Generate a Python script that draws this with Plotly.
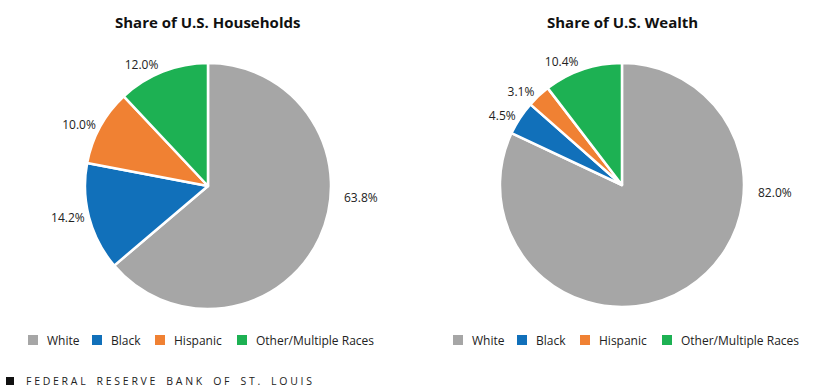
import plotly.graph_objects as go

categories = ["White", "Black", "Hispanic", "Other/Multiple Races"]
households = [63.8, 14.2, 10.0, 12.0]
wealth = [82.0, 4.5, 3.1, 10.4]
colors = ["#a6a6a6", "#1170ba", "#f08133", "#1db153"]
titles = ["Share of U.S. Households", "Share of U.S. Wealth"]
source = "FEDERAL RESERVE BANK OF ST. LOUIS"

W, H = 825, 392
font_family = "Open Sans, Roboto, sans-serif"
label_font = dict(size=12, color="#222222", family=font_family)

# largest slice label is drawn as an annotation (placed beside the pie, as in the original)
text_pos = ["none", "outside", "outside", "outside"]

fig = go.Figure()
for vals, dom in [(households, dict(x=[0.1030, 0.4012], y=[0.2117, 0.8393])),
                  (wealth, dict(x=[0.606, 0.9018], y=[0.2168, 0.8393]))]:
    fig.add_trace(go.Pie(
        labels=categories, values=vals, sort=False, direction="clockwise", rotation=0,
        marker=dict(colors=colors, line=dict(color="white", width=2.5)),
        texttemplate="%{value:.1f}%", textposition=text_pos, textfont=label_font,
        domain=dom, hoverinfo="label+value", showlegend=False,
    ))


def px_x(v):
    return v / W


def px_y(v):
    return 1 - v / H


annotations = [
    dict(text="<b>" + titles[0] + "</b>", x=px_x(207), y=px_y(22), xanchor="center", yanchor="middle",
         font=dict(size=15, color="#111111", family=font_family)),
    dict(text="<b>" + titles[1] + "</b>", x=px_x(622), y=px_y(22), xanchor="center", yanchor="middle",
         font=dict(size=15, color="#111111", family=font_family)),
    dict(text=f"{households[0]:.1f}%", x=px_x(342), y=px_y(197), xanchor="left", yanchor="middle",
         font=label_font),
    dict(text=f"{wealth[0]:.1f}%", x=px_x(756), y=px_y(192), xanchor="left", yanchor="middle",
         font=label_font),
    dict(text=" ".join(source).replace("   ", "    "), x=px_x(24), y=px_y(381),
         xanchor="left", yanchor="middle",
         font=dict(size=10.5, color="#222222", family=font_family)),
]
shapes = [
    dict(type="rect", x0=px_x(6), x1=px_x(14), y0=px_y(385), y1=px_y(377),
         fillcolor="#111111", line=dict(width=0)),
]

# legends: one row under each pie (swatch + label)
legend_starts = [28, 453]
item_offsets = [0, 64, 127, 209]
for start in legend_starts:
    for cat, col, off in zip(categories, colors, item_offsets):
        x0 = start + off
        shapes.append(dict(type="rect", x0=px_x(x0), x1=px_x(x0 + 10), y0=px_y(345), y1=px_y(335),
                           fillcolor=col, line=dict(width=0)))
        annotations.append(dict(text=cat, x=px_x(x0 + 17), y=px_y(340), xanchor="left",
                                yanchor="middle", font=dict(size=12, color="#222222",
                                                            family=font_family)))

for a in annotations:
    a.update(xref="paper", yref="paper", showarrow=False)
for s in shapes:
    s.update(xref="paper", yref="paper")

fig.update_layout(
    width=W, height=H,
    margin=dict(l=0, r=0, t=0, b=0),
    paper_bgcolor="white", plot_bgcolor="white",
    font=dict(family=font_family, color="#222222"),
    showlegend=False,
    annotations=annotations,
    shapes=shapes,
)

fig.write_html("out.html", config={"displayModeBar": False},
               post_script="document.body.style.margin='0px';")
